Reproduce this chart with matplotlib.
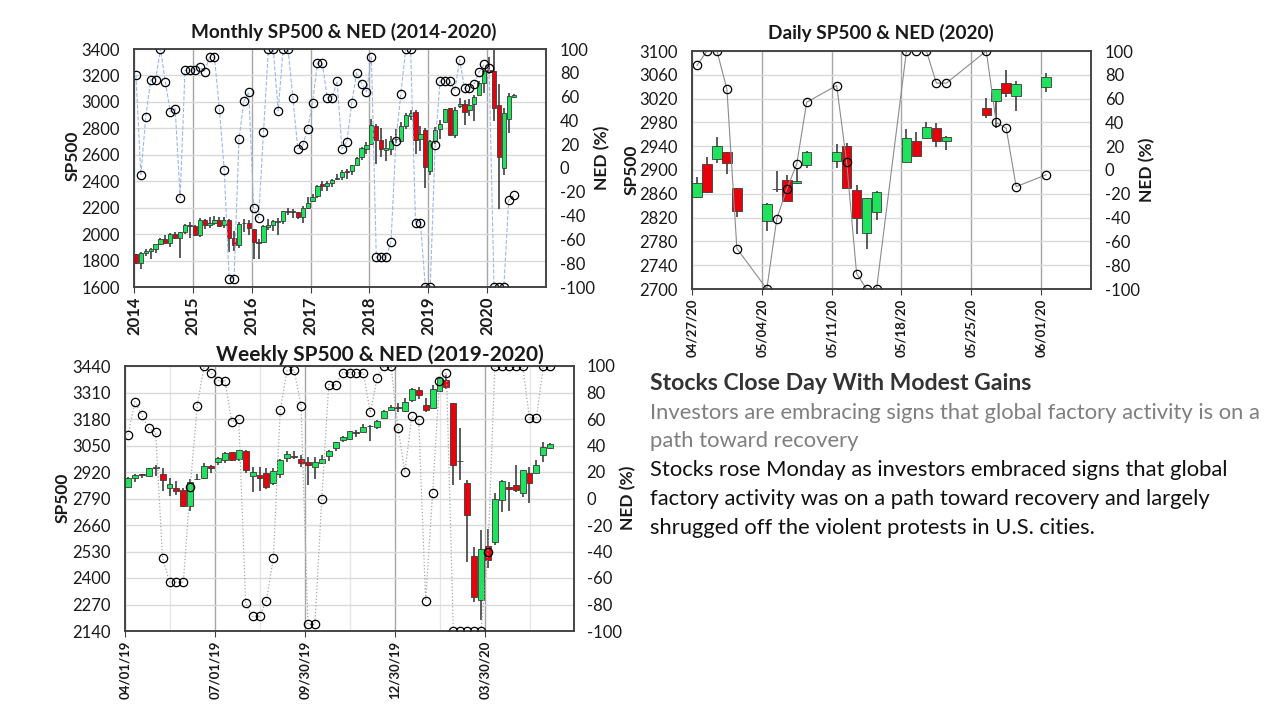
import matplotlib.pyplot as plt
import matplotlib.dates as mdates
import numpy as np

plt.rcParams['font.family'] = ['Lato', 'DejaVu Sans']
plt.rcParams['axes.unicode_minus'] = False

# ---------------- monthly SP500 (Jan 2014 - Jun 2020) ----------------
m_years = ['2014', '2015', '2016', '2017', '2018', '2019', '2020']
m_open = [1845.9, 1782.7, 1857.7, 1873.9, 1884.7, 1923.9, 1962.3, 1929.8, 2004.1, 1971.4, 2018.2, 2065.8,
          2058.9, 1996.7, 2105.2, 2067.6, 2087.4, 2108.6, 2067.0, 2104.5, 1970.1, 1919.7, 2080.8, 2082.9,
          2038.2, 1936.9, 1937.1, 2056.6, 2067.2, 2093.9, 2099.3, 2173.2, 2171.3, 2164.3, 2128.7, 2200.2,
          2251.6, 2285.6, 2380.1, 2362.3, 2388.5, 2415.6, 2431.4, 2477.1, 2474.4, 2521.2, 2583.2, 2645.1,
          2683.7, 2816.5, 2715.2, 2633.5, 2643.0, 2718.7, 2705.0, 2821.2, 2897.0, 2926.3, 2717.6, 2790.5,
          2477.0, 2702.3, 2798.2, 2848.6, 2952.3, 2751.5, 2971.4, 2980.3, 2937.1, 2983.7, 3050.7, 3143.9,
          3244.7, 3235.7, 2974.3, 2498.1, 2869.1, 3038.8]
m_high = [1850.8, 1867.9, 1883.9, 1897.3, 1924.0, 1968.2, 1991.4, 2005.0, 2019.3, 2018.2, 2075.8, 2093.6,
          2072.4, 2119.6, 2117.5, 2125.9, 2134.7, 2129.9, 2132.8, 2112.7, 2020.9, 2094.3, 2116.5, 2104.3,
          2038.2, 1962.9, 2072.2, 2111.1, 2103.5, 2120.6, 2177.1, 2193.8, 2187.9, 2169.6, 2214.1, 2277.5,
          2300.9, 2371.5, 2401.0, 2398.2, 2418.7, 2454.0, 2484.0, 2490.9, 2519.4, 2582.0, 2657.7, 2695.0,
          2872.9, 2836.0, 2801.9, 2717.5, 2742.2, 2791.5, 2848.0, 2916.5, 2940.9, 2939.9, 2815.2, 2800.2,
          2709.0, 2813.5, 2860.3, 2949.5, 2954.1, 2964.2, 3028.0, 3014.3, 3022.0, 3050.1, 3154.3, 3247.9,
          3337.8, 3393.5, 3136.7, 2954.9, 3068.7, 3062.2]
m_low = [1770.5, 1737.9, 1834.4, 1814.4, 1859.8, 1915.0, 1930.7, 1904.8, 1964.0, 1820.7, 2001.0, 1972.6,
         1988.1, 1980.9, 2039.7, 2048.4, 2067.9, 2056.3, 2044.0, 1867.0, 1871.9, 1893.7, 2019.4, 1993.3,
         1812.3, 1810.1, 1937.1, 2033.8, 2025.9, 1991.7, 2074.0, 2147.6, 2119.1, 2114.7, 2083.8, 2187.4,
         2245.1, 2271.7, 2322.3, 2328.9, 2352.7, 2405.7, 2407.7, 2417.4, 2446.6, 2520.4, 2557.5, 2605.5,
         2682.4, 2532.7, 2585.9, 2553.8, 2594.6, 2692.0, 2699.0, 2796.3, 2864.1, 2603.5, 2631.1, 2346.6,
         2444.0, 2681.8, 2722.3, 2848.6, 2750.5, 2728.8, 2952.2, 2822.1, 2891.9, 2856.0, 3050.7, 3070.3,
         3214.6, 2855.8, 2191.9, 2447.5, 2766.6, 3031.5]
m_close = [1782.6, 1859.5, 1872.3, 1884.0, 1923.6, 1960.2, 1930.7, 2003.4, 1972.3, 2018.1, 2067.6, 2058.9,
           1995.0, 2104.5, 2067.9, 2085.5, 2107.4, 2063.1, 2103.8, 1972.2, 1920.0, 2079.4, 2080.4, 2043.9,
           1940.2, 1932.2, 2059.7, 2065.3, 2097.0, 2098.9, 2173.6, 2171.0, 2168.3, 2126.2, 2198.8, 2238.8,
           2278.9, 2363.6, 2362.7, 2384.2, 2411.8, 2423.4, 2470.3, 2471.7, 2519.4, 2575.3, 2647.6, 2673.6,
           2823.8, 2713.8, 2640.9, 2648.1, 2705.3, 2718.4, 2816.3, 2901.5, 2914.0, 2711.7, 2760.2, 2506.9,
           2704.1, 2784.5, 2834.4, 2945.8, 2752.1, 2941.8, 2980.4, 2926.5, 2976.7, 3037.6, 3141.0, 3230.8,
           3225.5, 2954.2, 2584.6, 2912.4, 3044.3, 3055.7]
m_ned = [78, -6, 43, 74, 74, 100, 72, 47, 50, -25, 82, 82, 82, 85, 81, 93, 93, 50, -2, -93, -93, 24, 56, 64,
         -34, -42, 30, 100, 100, 48, 100, 100, 59, 16, 19, 33, 55, 88, 88, 59, 59, 73, 16, 22, 55, 80, 71, 64,
         93, -75, -75, -75, -62, 23, 62, 100, 100, -46, -46, -100, -100, 19, 73, 73, 73, 65, 91, 67, 67, 71,
         81, 87, 84, -100, -100, -100, -27, -23]

# ---------------- weekly SP500 (Apr 2019 - Jun 2020) ----------------
w_ticks = ['04/01/19', '07/01/19', '09/30/19', '12/30/19', '03/30/20']
w_open = [2848.6, 2888.5, 2908.3, 2898.8, 2940.6, 2908.9, 2840.2, 2841.9, 2830.0, 2751.5,
          2885.8, 2889.8, 2951.4, 2971.4, 2980.8, 3017.8, 2981.7, 3024.5, 2898.1, 2907.1,
          2913.5, 2866.7, 2909.0, 2988.4, 2996.4, 2983.5, 2967.1, 2944.2, 2965.8, 2996.5,
          3035.4, 3079.0, 3080.3, 3117.9, 3117.4, 3143.9, 3141.9, 3183.6, 3226.1, 3240.1,
          3217.6, 3271.1, 3321.0, 3247.2, 3235.7, 3318.3, 3369.0, 3257.6, 2974.3, 2863.9,
          2508.6, 2290.7, 2559.0, 2578.3, 2782.5, 2845.6, 2854.7, 2815.0, 2915.5, 2913.9,
          3004.1, 3038.8]
w_high = [2893.4, 2910.5, 2909.6, 2940.3, 2954.1, 2937.3, 2892.2, 2876.8, 2840.5, 2885.0,
          2910.6, 2964.2, 2952.0, 2995.8, 3017.8, 3017.8, 3028.0, 3029.0, 2944.0, 2943.3,
          2939.1, 2940.4, 2985.9, 3021.0, 3022.0, 3002.0, 2993.3, 2993.3, 3002.0, 3027.4,
          3067.0, 3097.8, 3120.5, 3127.6, 3154.3, 3150.6, 3176.3, 3225.7, 3247.9, 3258.1,
          3282.0, 3329.9, 3337.8, 3285.0, 3348.0, 3385.0, 3393.5, 3259.8, 3136.7, 2882.6,
          2553.9, 2637.0, 2641.4, 2818.6, 2879.2, 2869.0, 2954.9, 2932.2, 2945.8, 2980.3,
          3068.7, 3062.2]
w_low = [2848.6, 2873.3, 2891.9, 2898.2, 2900.7, 2825.4, 2801.4, 2805.5, 2750.5, 2728.8,
         2880.7, 2887.3, 2913.0, 2952.2, 2963.4, 2975.0, 2976.3, 2914.2, 2822.1, 2825.7,
         2835.0, 2856.0, 2891.9, 2969.4, 2985.0, 2945.5, 2856.0, 2884.0, 2960.0, 2975.0,
         3023.2, 3065.9, 3078.0, 3091.4, 3115.0, 3070.3, 3132.0, 3183.6, 3222.0, 3212.0,
         3214.6, 3263.0, 3280.0, 3214.7, 3234.0, 3315.0, 3328.5, 2855.8, 2882.0, 2478.9,
         2280.5, 2191.9, 2447.5, 2562.0, 2725.0, 2727.1, 2821.6, 2797.9, 2766.6, 2913.9,
         2969.8, 3031.5]
w_close = [2892.7, 2907.4, 2905.0, 2939.9, 2945.6, 2881.4, 2859.5, 2826.1, 2752.1, 2873.3,
           2887.0, 2950.5, 2941.8, 2990.4, 3013.8, 2976.6, 3025.9, 2932.1, 2918.7, 2888.7,
           2847.1, 2926.5, 2978.7, 3007.4, 2992.1, 2961.8, 2952.0, 2970.3, 2986.2, 3022.6,
           3066.9, 3093.1, 3120.5, 3110.3, 3141.0, 3145.9, 3168.8, 3221.2, 3240.0, 3234.9,
           3265.4, 3329.6, 3295.5, 3225.5, 3327.7, 3380.2, 3337.8, 2954.2, 2972.4, 2711.0,
           2304.9, 2541.5, 2488.7, 2789.8, 2874.6, 2836.7, 2830.7, 2929.8, 2863.7, 2955.5,
           3044.3, 3055.7]
w_ned = [48, 73, 63, 53, 50, -45, -63, -63, -63, 9,
         70, 100, 95, 89, 89, 58, 60, -79, -89, -89,
         -77, -45, 67, 97, 97, 70, -95, -95, 0, 86,
         86, 95, 95, 95, 95, 65, 91, 100, 100, 53,
         20, 62, 59, -77, 4, 89, 95, -100, -100, -100,
         -100, -100, -40, 100, 100, 100, 100, 100, 61, 61,
         100, 100]

# ---------------- daily SP500 (Apr 27 - Jun 1 2020) ----------------
d_dates = ['2020-04-27', '2020-04-28', '2020-04-29', '2020-04-30', '2020-05-01',
           '2020-05-04', '2020-05-05', '2020-05-06', '2020-05-07', '2020-05-08',
           '2020-05-11', '2020-05-12', '2020-05-13', '2020-05-14', '2020-05-15',
           '2020-05-18', '2020-05-19', '2020-05-20', '2020-05-21', '2020-05-22',
           '2020-05-26', '2020-05-27', '2020-05-28', '2020-05-29', '2020-06-01']
d_ticks = ['04/27/20', '05/04/20', '05/11/20', '05/18/20', '05/25/20', '06/01/20']
d_open = [2854.7, 2910.0, 2918.5, 2930.9, 2869.1, 2815.0, 2868.9, 2883.1, 2878.3, 2908.8,
          2915.5, 2939.5, 2865.9, 2794.5, 2830.0, 2913.9, 2948.6, 2953.6, 2970.0, 2948.1,
          3004.1, 3015.7, 3046.6, 3025.2, 3038.8]
d_high = [2887.7, 2921.2, 2954.9, 2930.9, 2869.1, 2844.2, 2898.2, 2891.1, 2901.9, 2932.2,
          2944.3, 2945.8, 2874.1, 2852.8, 2865.0, 2968.1, 2964.2, 2980.3, 2978.5, 2956.8,
          3021.7, 3036.3, 3068.7, 3049.2, 3062.2]
d_low = [2852.9, 2860.7, 2912.2, 2892.5, 2821.6, 2797.9, 2863.6, 2847.7, 2876.5, 2902.9,
         2903.4, 2869.6, 2793.2, 2766.6, 2816.8, 2913.9, 2922.4, 2953.6, 2938.6, 2933.6,
         2988.2, 2969.8, 3023.4, 2998.6, 3031.5]
d_close = [2878.5, 2863.4, 2939.5, 2912.4, 2830.7, 2842.7, 2868.4, 2848.4, 2881.2, 2929.8,
           2930.3, 2870.1, 2820.0, 2852.5, 2863.7, 2953.9, 2922.9, 2971.6, 2948.5, 2955.5,
           2991.8, 3036.1, 3029.7, 3044.3, 3055.7]
d_ned = [88, 100, 100, 68, -66, -100, -41, -16, 5, 57, 71, 7, -87, -100, -100,
         100, 100, 100, 73, 73, 100, 40, 35, -14, -4]

headline = 'Stocks Close Day With Modest Gains'
subhead = ['Investors are embracing signs that global factory activity is on a',
           'path toward recovery']
body = ['Stocks rose Monday as investors embraced signs that global',
        'factory activity was on a path toward recovery and largely',
        'shrugged off the violent protests in U.S. cities.']

GREEN = '#1FE35C'
RED = '#E8000B'
EDGE = '#3A3A3A'
TXT = '#1A1A1A'


def candles(ax, x, o, h, l, c, width):
    o, h, l, c = (np.asarray(v, dtype=float) for v in (o, h, l, c))
    colors = np.where(c >= o, GREEN, RED)
    ax.vlines(x, l, h, color='#404040', lw=1.2, zorder=2)
    body_h = np.maximum(np.abs(c - o), 0.5)
    ax.bar(x, body_h, width, bottom=np.minimum(o, c), color=colors,
           edgecolor=EDGE, lw=0.6, zorder=3)


def frame(ax, ax2, ylim, ystep, xsize):
    ax.set_ylim(*ylim)
    ax.set_yticks(np.arange(ylim[0], ylim[1] + 1, ystep))
    ax2.set_ylim(-100, 100)
    ax2.set_yticks(np.arange(-100, 101, 20))
    ax.grid(axis='y', color='#D9D9D9', lw=1)
    ax.grid(axis='x', which='major', color='#A6A6A6', lw=1)
    ax.set_axisbelow(True)
    for a in (ax, ax2):
        for s in a.spines.values():
            s.set_color('#404040')
            s.set_linewidth(1.1)
    ax.tick_params(axis='y', length=0, pad=10, labelsize=12, labelcolor=TXT)
    ax2.tick_params(axis='y', length=0, pad=10, labelsize=12, labelcolor=TXT)
    ax.tick_params(axis='x', length=4, pad=3, color='#404040', labelsize=xsize,
                   labelcolor=TXT)


def px_axes(fig, l, t, r, b):
    return fig.add_axes([l / 1280, 1 - b / 720, (r - l) / 1280, (b - t) / 720])


fig = plt.figure(figsize=(12.8, 7.2), dpi=100)

# ---- monthly ----
ax = px_axes(fig, 134, 49, 546, 287)
ax2 = ax.twinx()
mx = np.arange(len(m_close)) + 0.4
candles(ax, mx, m_open, m_high, m_low, m_close, 0.85)
ax2.plot(mx, m_ned, color='#9DB9E3', lw=0.8, ls='--', marker='o', ms=6,
         mfc='none', mec='black', mew=0.9)
ax.set_xlim(0, 84)
ax.set_xticks(np.arange(0, 73, 12))
ax.set_xticklabels(m_years, rotation=90, fontweight='bold')
frame(ax, ax2, (1600, 3400), 200, 12)
fig.text(344 / 1280, 1 - 32 / 720, 'Monthly SP500 & NED (2014-2020)', ha='center',
         va='center', fontsize=13.7, fontweight='bold', color=TXT)
fig.text(73 / 1280, 1 - 156 / 720, 'SP500', rotation=90, ha='center', va='center',
         fontsize=12.5, fontweight='bold', color=TXT)
fig.text(602 / 1280, 1 - 158 / 720, 'NED (%)', rotation=90, ha='center', va='center',
         fontsize=12.5, fontweight='bold', color=TXT)

# ---- daily ----
ax = px_axes(fig, 692, 51, 1091, 289)
ax2 = ax.twinx()
dx = mdates.datestr2num(d_dates) + 0.5
candles(ax, dx, d_open, d_high, d_low, d_close, 0.95)
ax2.plot(dx, d_ned, color='#8C8C8C', lw=0.8, marker='o', ms=6,
         mfc='none', mec='black', mew=0.9)
d0 = mdates.datestr2num('2020-04-27')
ax.set_xlim(d0, d0 + 40)
ax.set_xticks(d0 + np.arange(len(d_ticks)) * 7)
ax.set_xticklabels(d_ticks, rotation=90, fontweight='bold')
frame(ax, ax2, (2700, 3100), 40, 9.5)
fig.text(881 / 1280, 1 - 33 / 720, 'Daily SP500 & NED (2020)', ha='center',
         va='center', fontsize=13.7, fontweight='bold', color=TXT)
fig.text(632 / 1280, 1 - 170 / 720, 'SP500', rotation=90, ha='center', va='center',
         fontsize=12.5, fontweight='bold', color=TXT)
fig.text(1147 / 1280, 1 - 170 / 720, 'NED (%)', rotation=90, ha='center', va='center',
         fontsize=12.5, fontweight='bold', color=TXT)

# ---- weekly ----
ax = px_axes(fig, 125, 366, 574, 631)
ax2 = ax.twinx()
w0 = mdates.datestr2num('2019-04-01')
wx = w0 + np.arange(len(w_close)) * 7 + 3
candles(ax, wx, w_open, w_high, w_low, w_close, 6)
ax2.plot(wx, w_ned, color='#A6A6A6', lw=0.9, ls=':', marker='o', ms=6,
         mfc='none', mec='black', mew=0.9)
ax.set_xlim(w0, w0 + 454)
ax.set_xticks(w0 + np.arange(len(w_ticks)) * 91)
ax.set_xticks(w0 + 45.5 + np.arange(5) * 91, minor=True)
ax.set_xticklabels(w_ticks, rotation=90, fontweight='bold')
ax.tick_params(axis='x', which='minor', length=0)
ax.grid(axis='x', which='minor', color='#E6E6E6', lw=1)
frame(ax, ax2, (2140, 3440), 130, 9.5)
ax2.tick_params(axis='y', pad=9)
fig.text(380 / 1280, 1 - 355 / 720, 'Weekly SP500 & NED (2019-2020)', ha='center',
         va='center', fontsize=15, fontweight='bold', color=TXT)
fig.text(63 / 1280, 1 - 498 / 720, 'SP500', rotation=90, ha='center', va='center',
         fontsize=12.5, fontweight='bold', color=TXT)
fig.text(628 / 1280, 1 - 498 / 720, 'NED (%)', rotation=90, ha='center', va='center',
         fontsize=12.5, fontweight='bold', color=TXT)

# ---- news text ----
y = 384
fig.text(650 / 1280, 1 - y / 720, headline, fontsize=16.6, fontweight='bold',
         color='#333333', va='center')
for line in subhead:
    y += 28.7
    fig.text(650 / 1280, 1 - y / 720, line, fontsize=15.8, color='#7F7F7F', va='center')
for line in body:
    y += 28.7
    fig.text(650 / 1280, 1 - y / 720, line, fontsize=15.8, color='#111111', va='center')

fig.savefig('out.png', dpi=100)
